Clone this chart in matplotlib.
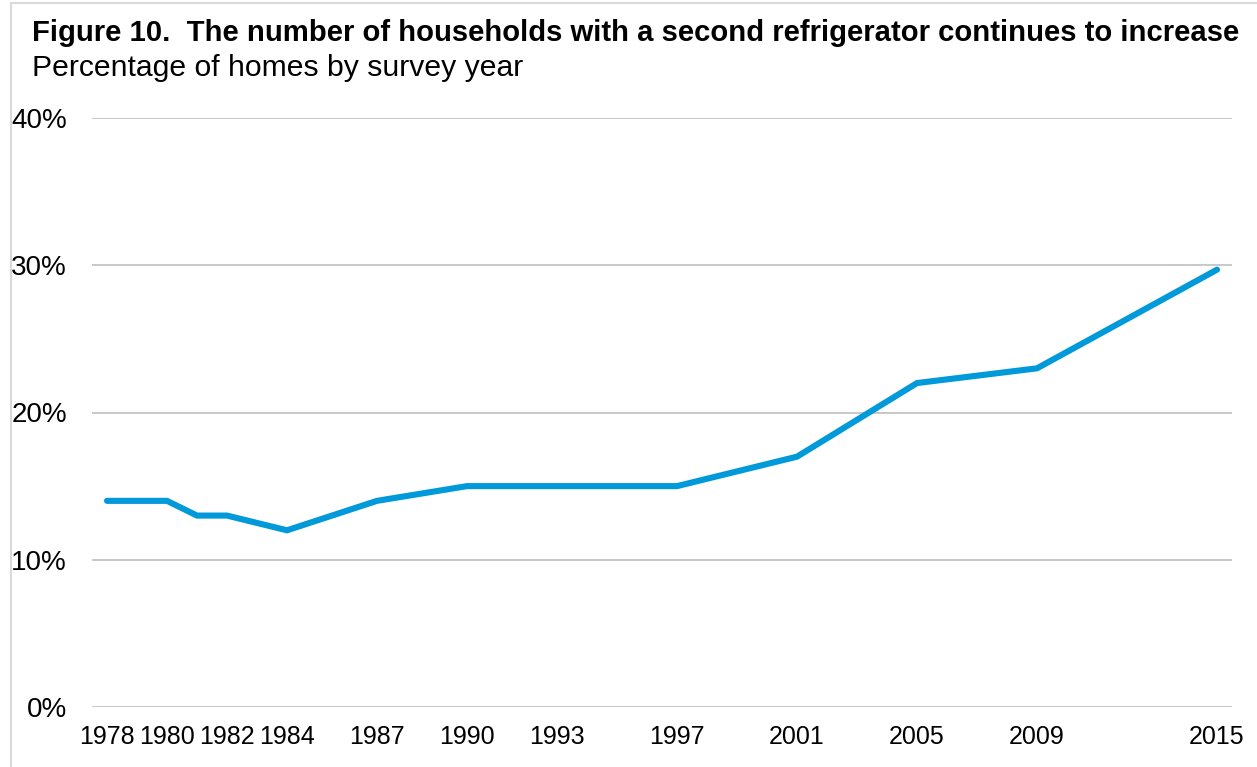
import matplotlib
matplotlib.use("Agg")
import matplotlib.pyplot as plt
from matplotlib.patches import Rectangle
from matplotlib.ticker import FuncFormatter

years = [1978, 1980, 1981, 1982, 1984, 1987, 1990, 1993, 1997, 2001, 2005, 2009, 2015]
share = [14, 14, 13, 13, 12, 14, 15, 15, 15, 17, 22, 23, 29.7]
tick_years = [1978, 1980, 1982, 1984, 1987, 1990, 1993, 1997, 2001, 2005, 2009, 2015]
title = "Figure 10.  The number of households with a second refrigerator continues to increase"
subtitle = "Percentage of homes by survey year"

plt.rcParams['font.family'] = ['Liberation Sans', 'DejaVu Sans']

W, H = 1257, 767
fig = plt.figure(figsize=(W / 100, H / 100), dpi=100)
ax = fig.add_axes([92 / W, 1 - 707 / H, (1232 - 92) / W, (707 - 118) / H])

ax.plot(years, share, color='#009ADA', lw=4.4, solid_capstyle='round', solid_joinstyle='miter', zorder=3)
ax.set_xlim(1977.5, 2015.5)
ax.set_ylim(0, 40)
ax.set_yticks([0, 10, 20, 30, 40])
ax.yaxis.set_major_formatter(FuncFormatter(lambda v, p: f"{v:.0f}%"))
ax.set_xticks(tick_years)
ax.set_xticklabels([str(y) for y in tick_years])
ax.grid(axis='y', color='#C8C8C8', lw=1.4)
ax.set_axisbelow(True)
for s in ax.spines.values():
    s.set_visible(False)
ax.tick_params(axis='x', length=0, labelsize=18, colors='black', pad=13)
ax.tick_params(axis='y', length=0, labelsize=20, colors='black', pad=18)

fig.patches.append(Rectangle((11 / W, -0.1), 1.2, 1 - 3 / H + 0.1, transform=fig.transFigure,
                             fill=False, edgecolor='#D9D9D9', lw=1.5))
fig.text(32 / W, 1 - 41 / H, title, fontsize=21.1, fontweight='bold', ha='left', va='baseline')
fig.text(32 / W, 1 - 76 / H, subtitle, fontsize=21.7, ha='left', va='baseline')

fig.savefig("out.png", dpi=100)
